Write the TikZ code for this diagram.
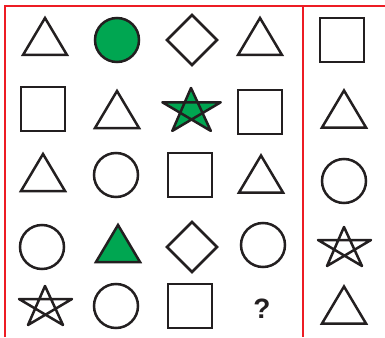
\documentclass[tikz,border=0pt]{standalone}
\usepackage{fontspec}
\setmainfont{Liberation Sans}
\definecolor{framered}{RGB}{237,28,36}
\definecolor{shapegreen}{RGB}{0,166,81}
\definecolor{ink}{RGB}{35,31,32}

\begin{document}
\begin{tikzpicture}[x=1pt, y=-1pt,
  shapeline/.style={draw=ink, line width=2.5pt},
  frameline/.style={draw=framered, line width=2.2pt}]
\useasboundingbox (0,0) rectangle (385,337);
% frame
\draw[frameline] (5,337) -- (5,6) -- (385,6);
\draw[frameline] (303,6) -- (303,337);
% triangles
\foreach \x/\y/\c in {45/36.5/white,260/36.5/white,117/109.5/white,344/109/white,43/172.5/white,261/174/white,118/243.5/shapegreen,344/305/white} {
  \filldraw[shapeline, fill=\c] (\x,\y-18.5) -- (\x+22,\y+18.5) -- (\x-22,\y+18.5) -- cycle;
}
% circles
\foreach \x/\y/\c in {117/40/shapegreen,116/175/white,344/181/white,42/247/white,263/245/white,116/306/white} {
  \filldraw[shapeline, fill=\c] (\x,\y) circle[radius=22];
}
% squares
\foreach \x/\y in {342/40,43/109,260/112,190/175,190/306} {
  \draw[shapeline] (\x-22,\y-22) rectangle (\x+22,\y+22);
}
% diamonds
\foreach \x/\y in {192/40,192/247} {
  \draw[shapeline] (\x-25,\y) -- (\x,\y-25) -- (\x+25,\y) -- (\x,\y+25) -- cycle;
}
% stars
\foreach \x/\y/\s/\c in {191/110/1.1/shapegreen,344/247/1/white,45/306/1/white} {
  \filldraw[shapeline, fill=\c, line join=round, shift={(\x,\y)}, scale=\s] (0,-20) -- (-17,19) -- (27,-7) -- (-26,-7) -- (18,19) -- cycle;
}
% missing one
\node[font=\fontsize{28}{28}\selectfont\bfseries, text=ink, inner sep=0pt] (query) at (262,309) {?};
\end{tikzpicture}
\end{document}
